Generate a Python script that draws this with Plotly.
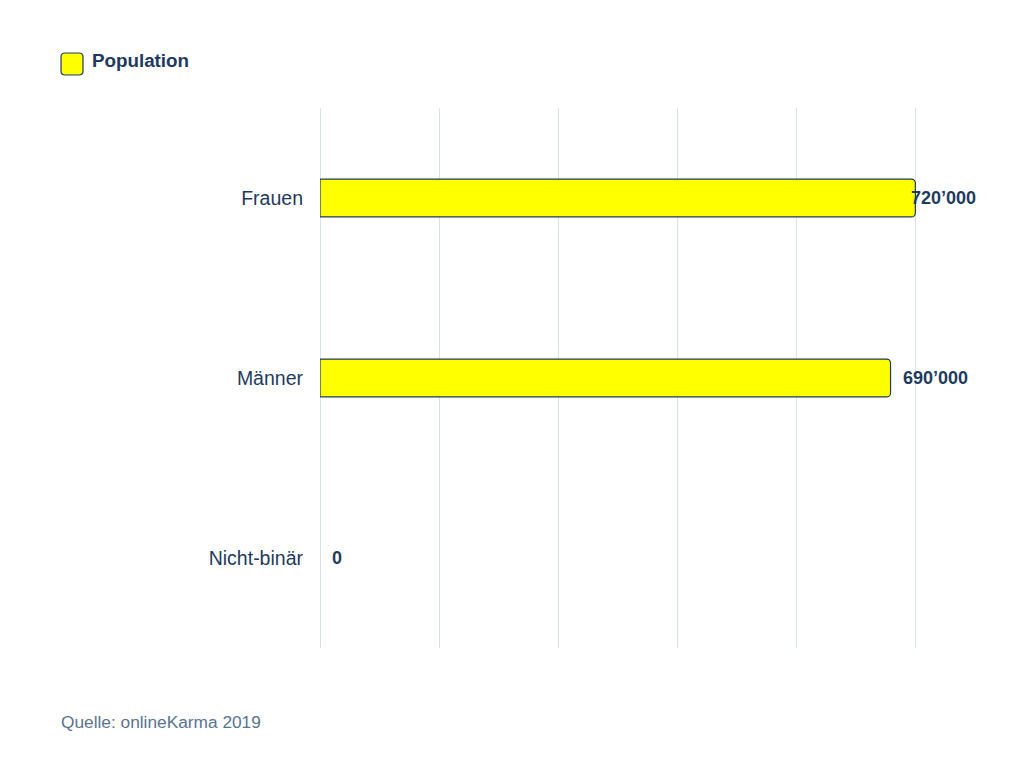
import plotly.graph_objects as go

# data
categories = ["Frauen", "Männer", "Nicht-binär"]
population = [720000, 690000, 0]
value_labels = ["720’000", "690’000", "0"]
series_name = "Population"
source_text = "Quelle: onlineKarma 2019"

NAVY = "#1f3a60"
GRID = "#d9e1ef"
YELLOW = "#ffff00"
FONT = "Liberation Sans, Arial"

W, H = 1024, 768
L, R, T, B = 312, 115, 100, 128
PW, PH = W - L - R, H - T - B


def px(x):
  return (x - L) / PW


def py(y):
  return (H - B - y) / PH


def rounded_box(x0, y0, x1, y1, r):
  # path in paper coords for a rounded rectangle given in pixels
  pts = [
    ("M", x0 + r, y0), ("L", x1 - r, y0), ("Q", x1, y0, x1, y0 + r),
    ("L", x1, y1 - r), ("Q", x1, y1, x1 - r, y1),
    ("L", x0 + r, y1), ("Q", x0, y1, x0, y1 - r),
    ("L", x0, y0 + r), ("Q", x0, y0, x0 + r, y0),
  ]
  out = ""
  for p in pts:
    cmd = p[0]
    nums = p[1:]
    coords = []
    for i in range(0, len(nums), 2):
      coords.append("%.5f,%.5f" % (px(nums[i]), py(nums[i + 1])))
    out += cmd + " " + " ".join(coords) + " "
  return out + "Z"


fig = go.Figure()
fig.add_trace(go.Bar(
  y=categories,
  x=population,
  orientation="h",
  name=series_name,
  width=0.21,
  marker=dict(
    color=YELLOW,
    line=dict(color=NAVY, width=[0 if v == 0 else 1.2 for v in population]),
    cornerradius=4,
  ),
  hoverinfo="skip",
  showlegend=False,
))

# value labels at bar ends (the longest one gets pushed back inside the frame)
top = max(population)
for cat, val, lab in zip(categories, population, value_labels):
  fig.add_annotation(
    x=val, y=cat, text="<b>" + lab + "</b>",
    showarrow=False, xanchor="left",
    xshift=10 if val < top else -6,
    font=dict(family=FONT, size=18, color=NAVY),
  )

# legend drawn by hand: rounded swatch + bold label
fig.add_shape(
  type="path", xref="paper", yref="paper",
  path=rounded_box(53, 45, 75, 67, 4),
  fillcolor=YELLOW, line=dict(color=NAVY, width=1.2),
)
fig.add_annotation(
  xref="paper", yref="paper", x=px(82), y=py(52),
  xanchor="left", yanchor="middle", showarrow=False,
  text="<b>" + series_name + "</b>",
  font=dict(family=FONT, size=18.8, color=NAVY),
)

fig.add_annotation(
  xref="paper", yref="paper", x=px(51), y=py(714),
  xanchor="left", yanchor="middle", showarrow=False,
  text=source_text,
  font=dict(family=FONT, size=17.3, color="#5b7391"),
)

fig.update_layout(
  width=W, height=H,
  paper_bgcolor="white", plot_bgcolor="white",
  margin=dict(l=L, r=R, t=T, b=B),
  font=dict(family=FONT, color=NAVY),
  showlegend=False,
  xaxis=dict(
    range=[0, 722000], dtick=144000, tick0=0,
    showticklabels=False, showgrid=True, gridcolor=GRID, gridwidth=1,
    zeroline=True, zerolinecolor=GRID, zerolinewidth=1, fixedrange=True,
  ),
  yaxis=dict(
    autorange="reversed", showgrid=False, zeroline=False,
    ticks="", ticklabelstandoff=16,
    tickfont=dict(size=19.5, color=NAVY),
  ),
)

fig.write_html("out.html")
